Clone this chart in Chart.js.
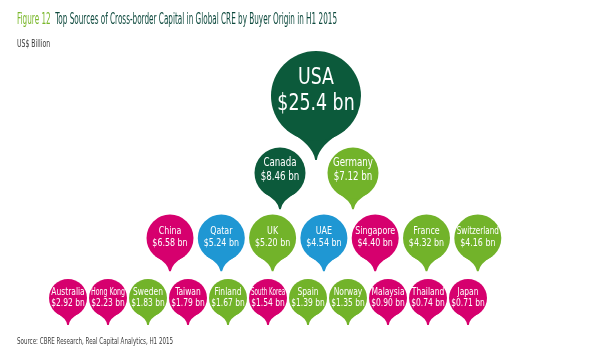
<!DOCTYPE html>
<html>
<head>
<meta charset="utf-8">
<script src="https://cdn.jsdelivr.net/npm/chart.js@4.4.0/dist/chart.umd.min.js"></script>
<style>
  body { margin: 0; background: #fff; }
  #wrap { position: relative; width: 600px; height: 361px; overflow: hidden; }
  canvas { position: absolute; left: 0; top: 0; }
  .txt { position: absolute; left: 17px; white-space: nowrap; line-height: 1; transform-origin: 0 0;
         font-family: "Liberation Sans Narrow", "DejaVu Sans Condensed", sans-serif; }
  #title { top: 11px; font-size: 16px; color: #0e4a3e; }
  #title span { color: #79b72a; }
  #unit { top: 39px; font-size: 10px; color: #3a3a3a; }
  #source { top: 337px; font-size: 9px; color: #3a3a3a; }
</style>
</head>
<body>
<div id="wrap">
  <canvas id="chart" width="600" height="361"></canvas>
  <div class="txt" id="title" data-w="320"><span>Figure 12</span>&nbsp; Top Sources of Cross-border Capital in Global CRE by Buyer Origin in H1 2015</div>
  <div class="txt" id="unit" data-w="33">US$ Billion</div>
  <div class="txt" id="source" data-w="156">Source: CBRE Research, Real Capital Analytics, H1 2015</div>
</div>
<script>
'use strict';

const buyers = ['USA', 'Canada', 'Germany', 'China', 'Qatar', 'UK', 'UAE', 'Singapore', 'France', 'Switzerland',
  'Australia', 'Hong Kong', 'Sweden', 'Taiwan', 'Finland', 'South Korea', 'Spain', 'Norway', 'Malaysia', 'Thailand', 'Japan'];
const volumes = [25.4, 8.46, 7.12, 6.58, 5.24, 5.20, 4.54, 4.40, 4.32, 4.16,
  2.92, 2.23, 1.83, 1.79, 1.67, 1.54, 1.39, 1.35, 0.90, 0.74, 0.71];
const regions = ['Americas', 'Americas', 'Europe', 'Asia Pacific', 'Middle East', 'Europe', 'Middle East', 'Asia Pacific', 'Europe', 'Europe',
  'Asia Pacific', 'Asia Pacific', 'Europe', 'Asia Pacific', 'Europe', 'Asia Pacific', 'Europe', 'Europe', 'Asia Pacific', 'Asia Pacific', 'Asia Pacific'];
// a buyer goes in the first row whose floor it passes
const rowFloors = [20, 7, 4, 0];

const regionColours = {
  'Americas': '#0c5a3b',
  'Europe': '#72b32a',
  'Asia Pacific': '#d6006e',
  'Middle East': '#1f97d3'
};

// one entry per row of pins
const rowLayout = [
  { y: 96,  r: 45,   x0: 316, gap: 0,    font: 23,   lead: 26,   shift: -5 },
  { y: 173, r: 25.5, x0: 280, gap: 73,   font: 11.5, lead: 13.5, shift: -3 },
  { y: 238, r: 23.5, x0: 170, gap: 51.3, font: 10.5, lead: 11.5, shift: -0.5 },
  { y: 298, r: 19,   x0: 68,  gap: 40,   font: 10,   lead: 11,   shift: -0.5 }
];

// fit the html texts to the width they have in the figure
document.querySelectorAll('.txt').forEach(el => {
  el.style.transform = 'scaleX(' + (el.dataset.w / el.offsetWidth) + ')';
});

let rowCount = [0, 0, 0, 0];
let rowOf = [];
let points = [];
for (let i = 0; i < volumes.length; i++) {
  let row = rowFloors.findIndex(f => volumes[i] > f);
  let L = rowLayout[row];
  let x = L.x0 + rowCount[row] * L.gap;
  rowCount[row]++;
  rowOf.push(row);
  points.push({ x: x, y: L.y, r: L.r });
}

function fmt(v) {
  return '$' + (v >= 10 ? v.toFixed(1) : v.toFixed(2)) + ' bn';
}

const pinPlugin = {
  id: 'pins',
  beforeDatasetsDraw(chart) {
    let ctx = chart.ctx;
    chart.getDatasetMeta(0).data.forEach((el, i) => {
      let r = el.options.radius;
      let a = 0.72;
      let sx = r * Math.sin(a), sy = r * Math.cos(a);
      let tip = el.y + r * 1.42;
      ctx.save();
      ctx.fillStyle = regionColours[regions[i]];
      ctx.beginPath();
      ctx.moveTo(el.x - sx, el.y + sy);
      ctx.quadraticCurveTo(el.x - r * 0.07, el.y + r * 1.08, el.x - 0.8, tip);
      ctx.lineTo(el.x + 0.8, tip);
      ctx.quadraticCurveTo(el.x + r * 0.07, el.y + r * 1.08, el.x + sx, el.y + sy);
      ctx.closePath();
      ctx.fill();
      ctx.restore();
    });
  },
  afterDatasetsDraw(chart) {
    let ctx = chart.ctx;
    chart.getDatasetMeta(0).data.forEach((el, i) => {
      let L = rowLayout[rowOf[i]];
      let r = el.options.radius;
      let lines = [buyers[i], fmt(volumes[i])];
      ctx.save();
      ctx.fillStyle = '#ffffff';
      ctx.font = L.font + 'px "Liberation Sans Narrow", "DejaVu Sans Condensed", sans-serif';
      ctx.textAlign = 'center';
      ctx.textBaseline = 'middle';
      lines.forEach((t, k) => {
        let ty = el.y + L.shift + (k - 0.5) * L.lead;
        let sq = Math.min(0.84, (r * 1.8) / ctx.measureText(t).width);
        ctx.save();
        ctx.translate(el.x, ty);
        ctx.scale(sq, 1);
        ctx.fillText(t, 0, 0);
        ctx.restore();
      });
      ctx.restore();
    });
  }
};

new Chart(document.getElementById('chart'), {
  type: 'bubble',
  data: {
    datasets: [{
      data: points,
      backgroundColor: regions.map(r => regionColours[r]),
      borderWidth: 0,
      hoverRadius: 0,
      clip: false
    }]
  },
  options: {
    responsive: false,
    animation: false,
    events: [],
    layout: { padding: 0, autoPadding: false },
    plugins: { legend: { display: false }, tooltip: { enabled: false } },
    scales: {
      x: { type: 'linear', min: 0, max: 600, display: false },
      y: { type: 'linear', min: 0, max: 361, reverse: true, display: false }
    }
  },
  plugins: [pinPlugin]
});
</script>
</body>
</html>
